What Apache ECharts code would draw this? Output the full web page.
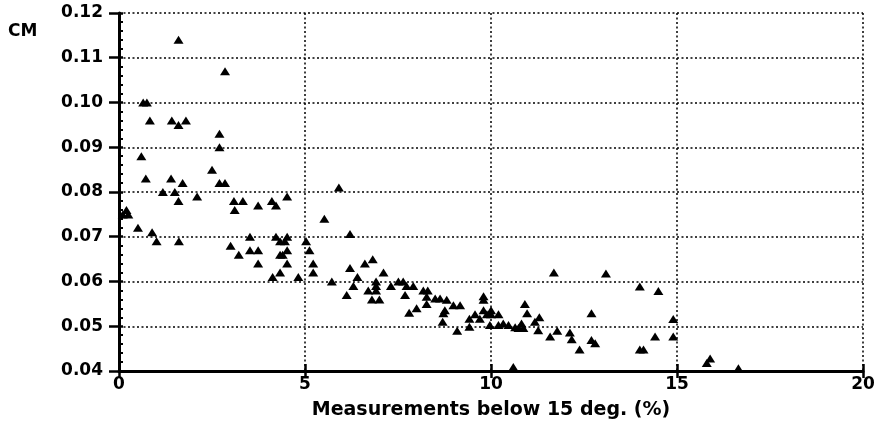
<!DOCTYPE html>
<html>
<head>
<meta charset="utf-8">
<script src="https://cdn.jsdelivr.net/npm/echarts@6/dist/echarts.min.js"></script>
<style>
  html, body { margin: 0; padding: 0; background: #fff; }
  #chart { width: 879px; height: 432px; }
</style>
</head>
<body>
<div id="chart"></div>
<script>
var pctBelow = [
  1.6, 2.85, 0.65, 0.75, 0.83, 1.42, 1.6, 1.8, 2.7, 2.7,
  0.6, 0.72, 1.4, 1.71, 2.5, 2.7, 2.85, 1.18, 1.5, 1.6,
  2.1, 0.1, 0.2, 0.25, 0.51, 0.89, 1.01, 1.61,
  3.09, 3.33, 3.11, 3.74, 4.11, 4.22, 4.52, 3.0, 3.22, 3.52,
  3.52, 3.74, 3.74, 4.13, 4.22, 4.33, 4.52, 4.46, 4.52, 4.33,
  4.4, 4.52, 4.33, 4.82,
  5.91, 5.52, 6.21, 5.03, 5.12, 5.22, 5.22, 6.21, 6.61, 6.82,
  7.11, 6.41, 5.72, 6.3, 6.12, 6.91, 6.91, 6.7, 6.91, 6.8,
  7.0, 7.31, 7.51, 7.64, 7.73, 7.91, 7.69, 7.8, 8.0, 8.18, 8.27,
  8.3, 8.5, 8.63, 8.81, 8.27, 8.99, 9.17, 8.76, 8.72, 8.7,
  9.09, 9.42, 9.57, 9.7, 9.8, 9.89, 10.0, 10.0, 10.2, 9.42,
  9.8, 9.8, 9.97, 10.2, 10.33, 10.47, 10.65, 10.74, 10.82, 10.87,
  10.91, 10.97, 11.18, 11.3, 11.27, 10.6,
  11.69, 11.59, 11.78, 12.12, 12.17, 12.38, 13.09, 14.0, 14.5, 12.7,
  14.9, 12.7, 12.8, 14.41, 14.9, 14.0, 14.1, 15.89, 15.8, 16.65
]
var cmValues = [
  0.114, 0.107, 0.100, 0.100, 0.096, 0.096, 0.095, 0.096, 0.093, 0.090,
  0.088, 0.083, 0.083, 0.082, 0.085, 0.082, 0.082, 0.080, 0.080, 0.078,
  0.079, 0.075, 0.076, 0.075, 0.072, 0.071, 0.069, 0.069,
  0.078, 0.078, 0.076, 0.077, 0.078, 0.077, 0.079, 0.068, 0.066, 0.070,
  0.067, 0.067, 0.064, 0.061, 0.070, 0.069, 0.070, 0.069, 0.067, 0.066,
  0.066, 0.064, 0.062, 0.061,
  0.081, 0.074, 0.0706, 0.069, 0.067, 0.064, 0.062, 0.063, 0.064, 0.065,
  0.062, 0.061, 0.060, 0.059, 0.057, 0.060, 0.059, 0.058, 0.058, 0.056,
  0.056, 0.059, 0.060, 0.060, 0.059, 0.059, 0.057, 0.053, 0.054, 0.058, 0.0566,
  0.058, 0.0562, 0.0562, 0.0559, 0.055, 0.0547, 0.0547, 0.0536, 0.0529, 0.051,
  0.049, 0.0517, 0.0527, 0.0517, 0.0536, 0.0527, 0.0536, 0.0527, 0.0527, 0.0499,
  0.0567, 0.0559, 0.0503, 0.0503, 0.0506, 0.0503, 0.0498, 0.0496, 0.0506, 0.0496,
  0.055, 0.0529, 0.051, 0.052, 0.0491, 0.0409,
  0.062, 0.0477, 0.049, 0.0486, 0.0471, 0.0448, 0.0618, 0.0589, 0.0579, 0.0529,
  0.0516, 0.0469, 0.0462, 0.0477, 0.0477, 0.0448, 0.0448, 0.0428, 0.0418, 0.0406
]
var xTicks = [0, 5, 10, 15, 20]
var yTicks = [0.04, 0.05, 0.06, 0.07, 0.08, 0.09, 0.10, 0.11, 0.12]

var points = pctBelow.map(function (x, i) { return [x, cmValues[i]] })

var chart = echarts.init(document.getElementById('chart'))
var font = 'DejaVu Sans'
var dotted = { color: '#000', width: 1.5, type: [2, 2.5] }

var option = {
  animation: false,
  grid: { left: 119, right: 16, top: 13, bottom: 61 },
  graphic: [{
    type: 'text',
    left: 8,
    top: 23,
    style: { text: 'CM', font: 'bold 17px "DejaVu Sans"', fill: '#000' }
  }],
  xAxis: [
    {
      type: 'value',
      min: xTicks[0],
      max: xTicks[xTicks.length - 1],
      interval: 5,
      name: 'Measurements below 15 deg. (%)',
      nameLocation: 'middle',
      nameGap: 30,
      nameTextStyle: { fontFamily: font, fontWeight: 'bold', fontSize: 19, color: '#000' },
      axisLine: { lineStyle: { color: '#000', width: 3 } },
      axisTick: { length: 7, lineStyle: { color: '#000', width: 2.5 } },
      axisLabel: { margin: 5, fontFamily: font, fontWeight: 'bold', fontSize: 17, color: '#000' },
      splitLine: { show: true, lineStyle: dotted }
    },
    {
      type: 'value',
      position: 'bottom',
      min: xTicks[0],
      max: xTicks[xTicks.length - 1],
      interval: 5,
      axisLine: { show: false },
      axisTick: { inside: true, length: 7, lineStyle: { color: '#000', width: 2.5 } },
      axisLabel: { show: false },
      splitLine: { show: false }
    }
  ],
  yAxis: [
    {
      type: 'value',
      min: yTicks[0],
      max: yTicks[yTicks.length - 1],
      interval: 0.01,
      axisLine: { lineStyle: { color: '#000', width: 3 } },
      axisTick: { length: 10, lineStyle: { color: '#000', width: 2.5 } },
      axisLabel: {
        margin: 16,
        fontFamily: font, fontWeight: 'bold', fontSize: 17, color: '#000',
        formatter: function (v) { return v.toFixed(2) }
      },
      splitLine: { show: true, lineStyle: dotted }
    },
    {
      type: 'value',
      position: 'left',
      min: yTicks[0],
      max: yTicks[yTicks.length - 1],
      interval: 0.01,
      axisLine: { show: false },
      axisTick: { inside: true, length: 4, lineStyle: { color: '#000', width: 2.5 } },
      minorTick: { show: true, splitNumber: 5, length: 4, lineStyle: { color: '#000', width: 2 } },
      axisLabel: { show: false },
      splitLine: { show: false }
    }
  ],
  series: [{
    type: 'scatter',
    xAxisIndex: 0,
    yAxisIndex: 0,
    symbol: 'triangle',
    symbolSize: [10, 8],
    itemStyle: { color: '#000', opacity: 1 },
    data: points
  }]
}

chart.setOption(option)
</script>
</body>
</html>
